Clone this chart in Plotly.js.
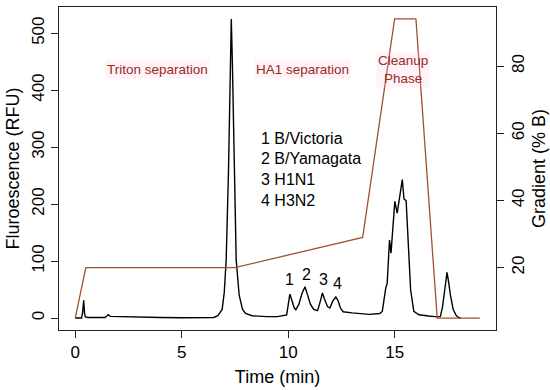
<!DOCTYPE html>
<html>
<head>
<meta charset="utf-8">
<script src="https://cdn.plot.ly/plotly-3.0.1.min.js"></script>
<style>html,body{margin:0;padding:0;background:#fff;}#chart{width:550px;height:390px;}</style>
</head>
<body>
<div id="chart"></div>
<script>
// Fluorescence trace (time in min, RFU)
const traceTime = [0, 0.30, 0.35, 0.40, 0.44, 0.48, 0.6, 1.0, 1.4, 1.5, 1.55, 1.65, 2.0, 3.0, 4.0, 5.0, 6.0, 6.5,
  6.7, 6.9, 7.0, 7.09, 7.2, 7.28, 7.33, 7.38, 7.46, 7.56, 7.7, 7.86, 8.0, 8.3, 9.0, 9.5, 9.93,
  10.0, 10.08, 10.16, 10.28, 10.36, 10.5, 10.65, 10.79, 10.9, 11.05, 11.2, 11.38, 11.5, 11.61, 11.7, 11.85, 11.96,
  12.1, 12.24, 12.35, 12.45, 12.58, 13.0, 13.8, 14.3, 14.42, 14.58, 14.65, 14.76, 14.83, 15.01, 15.12, 15.36, 15.44,
  15.54, 15.75, 15.9, 16.14, 16.6, 17.0, 17.15, 17.25, 17.32, 17.46, 17.54, 17.62, 17.75, 17.9, 18.0, 18.1];
const fluorescence = [0, 0, 10, 31, 8, 2, 1, 0.5, 1, 4, 6, 3, 2.5, 1.5, 1, 0.5, 0.5, 1,
  4, 15, 45, 102, 260, 430, 525, 450, 262, 102, 40, 15, 8, 4, 2.5, 2.5, 5.5,
  25, 42, 33, 18, 14.5, 24, 43, 55, 42, 24, 15, 13, 28, 44, 34, 20, 17.5,
  30, 37, 30, 18, 11, 9, 6.5, 8, 11.6, 52, 61, 137, 114, 205, 184, 243, 209,
  206, 50, 11.6, 5.8, 3.5, 2, 3, 20, 40, 80, 62, 40, 15, 4, 1, 0];

// Gradient program (% B)
const gradTime = [0, 0.5, 7.5, 13.5, 15, 16, 17, 19];
const gradB = [5, 20, 20, 29, 94, 94, 5, 5];

// Axis ticks
const xTicks = [0, 5, 10, 15];
const yTicks = [0, 100, 200, 300, 400, 500];
const y2Ticks = [20, 40, 60, 80];

// Labels
const phaseLabels = ["Triton separation", "HA1 separation", "Cleanup<br>Phase"];
const phaseX = [3.86, 10.69, 15.39];
const phaseY = [436, 436, 436];
const strainLabels = ["1 B/Victoria", "2 B/Yamagata", "3 H1N1", "4 H3N2"];
const strainY = [316, 279.5, 242.6, 205.8];
const peakLabels = ["1", "2", "3", "4"];
const peakX = [10.08, 10.88, 11.64, 12.31];
const peakY = [67, 77, 68, 60];

const FONT = "Liberation Sans, Arial, sans-serif";
const RED = "#9A2A1C";

const annotations = [];
phaseLabels.forEach((t, i) => annotations.push({
  text: t, x: phaseX[i], y: phaseY[i], xref: "x", yref: "y", showarrow: false,
  font: {family: FONT, size: 13.5, color: RED}, align: "center",
  bgcolor: "rgba(255,190,220,0.2)", borderpad: 1
}));
strainLabels.forEach((t, i) => annotations.push({
  text: t, x: 8.64, y: strainY[i], xref: "x", yref: "y", showarrow: false,
  xanchor: "left", font: {family: FONT, size: 16, color: "#000"}
}));
peakLabels.forEach((t, i) => annotations.push({
  text: t, x: peakX[i], y: peakY[i], xref: "x", yref: "y", showarrow: false,
  font: {family: FONT, size: 16, color: "#000"}
}));

const data = [
  {x: traceTime, y: fluorescence, type: "scatter", mode: "lines",
   line: {color: "#000", width: 1.4}, yaxis: "y", hoverinfo: "skip"},
  {x: gradTime, y: gradB, type: "scatter", mode: "lines",
   line: {color: "#A0522D", width: 1.3}, yaxis: "y2", hoverinfo: "skip"}
];

const axisCommon = {
  showgrid: false, zeroline: false, showline: true, linecolor: "#222", linewidth: 1,
  ticks: "outside", ticklen: 7, tickcolor: "#222", tickwidth: 1,
  tickfont: {family: FONT, size: 17, color: "#000"}
};

const layout = {
  width: 550, height: 390,
  margin: {l: 59, r: 54, t: 7, b: 60},
  paper_bgcolor: "#fff", plot_bgcolor: "#fff",
  showlegend: false,
  xaxis: Object.assign({}, axisCommon, {
    range: [-0.76, 19.76], tickvals: xTicks, mirror: true,
    title: {text: "Time (min)", font: {family: FONT, size: 18, color: "#000"}, standoff: 8}
  }),
  yaxis: Object.assign({}, axisCommon, {
    range: [-21, 546], tickvals: yTicks, tickangle: -90,
    title: {text: "Fluroescence (RFU)", font: {family: FONT, size: 18, color: "#000"}, standoff: 4}
  }),
  yaxis2: Object.assign({}, axisCommon, {
    range: [1.44, 97.56], tickvals: y2Ticks, tickangle: -90,
    overlaying: "y", side: "right",
    title: {text: "Gradient (% B)", font: {family: FONT, size: 18, color: "#000"}, standoff: 4}
  }),
  annotations: annotations
};

Plotly.newPlot("chart", data, layout, {staticPlot: true, displayModeBar: false});
</script>
</body>
</html>
